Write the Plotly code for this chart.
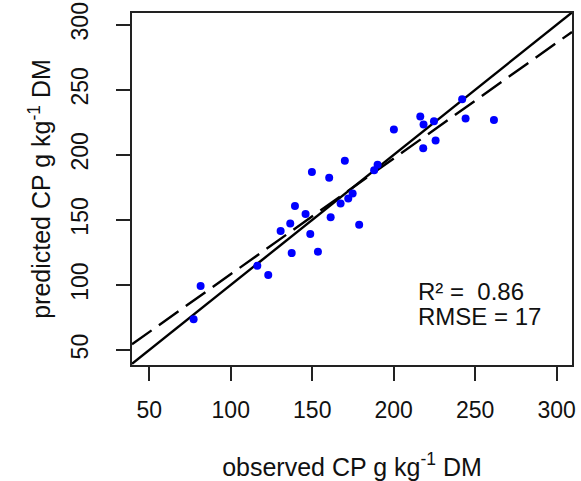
import plotly.graph_objects as go

# observed vs predicted CP (g kg-1 DM)
observed = [77.2, 81.5, 116.3, 123.0, 130.6, 136.5, 137.4, 139.4, 145.9, 148.8,
            149.8, 153.5, 160.4, 161.3, 167.4, 172.1, 174.8, 178.8, 170.0, 188.0,
            190.1, 200.1, 216.3, 218.1, 218.3, 224.7, 225.7, 242.0, 244.1, 261.5]
predicted = [73.6, 99.2, 114.7, 107.6, 141.4, 147.3, 124.5, 160.6, 154.5, 139.1,
             186.9, 125.6, 182.3, 152.1, 162.7, 166.5, 170.3, 146.2, 195.4, 188.2,
             192.3, 219.5, 229.5, 205.1, 223.3, 225.9, 211.1, 242.8, 228.0, 226.7]

# regression line (predicted ~ observed)
reg_intercept = 19.4
reg_slope = 0.889

x_range = [39.4, 309.4]
y_range = [38.5, 309.0]
tick_vals = [50, 100, 150, 200, 250, 300]

stats_lines = ["R² =  0.86", "RMSE = 17"]
x_title = "observed CP g kg<sup>-1</sup> DM"
y_title = "predicted CP g kg<sup>-1</sup> DM"

FONT = "Liberation Sans, Arial, sans-serif"
FS_TICK = 23
FS_TITLE = 25
FS_ANN = 24
TXT = "#111111"

fig = go.Figure()

# 1:1 line
fig.add_trace(go.Scatter(x=x_range, y=x_range, mode="lines",
                         line=dict(color="black", width=2.4), hoverinfo="skip"))
# regression line
fig.add_trace(go.Scatter(x=x_range, y=[reg_intercept + reg_slope * v for v in x_range],
                         mode="lines",
                         line=dict(color="black", width=2.4, dash="24px,9px"),
                         hoverinfo="skip"))
# points
fig.add_trace(go.Scatter(x=observed, y=predicted, mode="markers",
                         marker=dict(color="#0000FF", size=8, line=dict(width=0))))

fig.add_annotation(x=213.5, y=95.3, xref="x", yref="y", text=stats_lines[0],
                   showarrow=False, xanchor="left", yanchor="middle",
                   font=dict(family=FONT, size=FS_ANN, color=TXT))
fig.add_annotation(x=213.5, y=76.0, xref="x", yref="y", text=stats_lines[1],
                   showarrow=False, xanchor="left", yanchor="middle",
                   font=dict(family=FONT, size=FS_ANN, color=TXT))

axis_common = dict(
    showgrid=False, zeroline=False, automargin=False,
    showline=True, mirror=True, linecolor="#222222", linewidth=1.5,
    ticks="outside", ticklen=14, tickwidth=1.5, tickcolor="#222222",
    tickvals=tick_vals, ticklabeloverflow="allow",
    tickfont=dict(family=FONT, size=FS_TICK, color=TXT),
)

fig.update_layout(
    width=581, height=481,
    margin=dict(l=132, r=9, t=13, b=116),
    paper_bgcolor="white", plot_bgcolor="white",
    showlegend=False,
    font=dict(family=FONT, size=FS_TICK, color=TXT),
    xaxis=dict(range=x_range, ticklabelstandoff=10,
               title=dict(text=x_title, standoff=38,
                          font=dict(family=FONT, size=FS_TITLE, color=TXT)),
               **axis_common),
    yaxis=dict(range=y_range, tickangle=-90, ticklabelstandoff=19,
               title=dict(text=y_title, standoff=9,
                          font=dict(family=FONT, size=FS_TITLE, color=TXT)),
               **axis_common),
)

# remove the browser's default 8px page margin so the figure fills the window
fig.write_html("out.html", config={"displayModeBar": False},
               post_script="document.body.style.margin='0';")
